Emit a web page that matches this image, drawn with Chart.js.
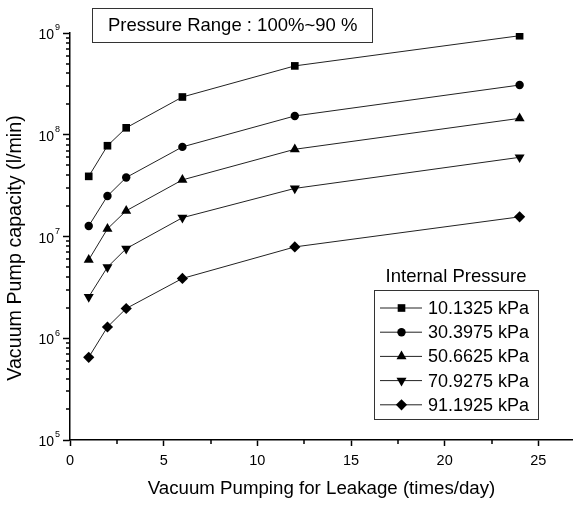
<!DOCTYPE html>
<html>
<head>
<meta charset="utf-8">
<title>Vacuum Pump capacity</title>
<script src="https://cdn.jsdelivr.net/npm/chart.js@4.4.1/dist/chart.umd.min.js"></script>
<style>
  html, body { margin: 0; padding: 0; background: #fff; }
  canvas { display: block; }
</style>
</head>
<body>
<canvas id="chartPump" width="573" height="507"></canvas>
<script>
// pumping frequency (times/day) and capacity (l/min) for each internal pressure
const timesPerDay = [1, 2, 3, 6, 12, 24];
const pressureLabels = ['10.1325 kPa', '30.3975 kPa', '50.6625 kPa', '70.9275 kPa', '91.1925 kPa'];
const cap10 = [3.9e7, 7.8e7, 1.17e8, 2.35e8, 4.75e8, 9.4e8];
const cap30 = [1.27e7, 2.5e7, 3.8e7, 7.6e7, 1.53e8, 3.08e8];
const cap50 = [5.9e6, 1.19e7, 1.79e7, 3.6e7, 7.2e7, 1.45e8];
const cap70 = [2.55e6, 5.0e6, 7.6e6, 1.53e7, 2.97e7, 6.0e7];
const cap91 = [6.5e5, 1.29e6, 1.96e6, 3.87e6, 7.9e6, 1.56e7];
const xTickValues = [0, 5, 10, 15, 20, 25];
const yTickValues = [1e5, 1e6, 1e7, 1e8, 1e9];

const series = [cap10, cap30, cap50, cap70, cap91];
const markers = [
  { pointStyle: 'rect', radius: 5.4, rotation: 0 },
  { pointStyle: 'circle', radius: 4.2, rotation: 0 },
  { pointStyle: 'triangle', radius: 5.8, rotation: 0 },
  { pointStyle: 'triangle', radius: 5.8, rotation: 180 },
  { pointStyle: 'rectRot', radius: 5.6, rotation: 0 }
];

const datasets = series.map((vals, i) => ({
  label: pressureLabels[i],
  data: timesPerDay.map((t, j) => ({ x: t, y: vals[j] })),
  showLine: true,
  borderColor: '#222',
  borderWidth: 1,
  backgroundColor: '#000',
  pointStyle: markers[i].pointStyle,
  pointRadius: markers[i].radius,
  pointRotation: markers[i].rotation,
  pointBorderWidth: 0,
  pointBackgroundColor: '#000'
}));

const FONT = '"Liberation Sans", Arial, sans-serif';

// extra drawing: minor ticks, 10^n labels, y title, legend and header box
const extras = {
  id: 'extras',
  afterDraw(chart) {
    const { ctx, chartArea, scales: { x, y } } = chart;
    ctx.save();
    ctx.strokeStyle = '#000';
    ctx.lineWidth = 1.5;

    // minor ticks
    ctx.beginPath();
    for (let e = 5; e < 9; e++) {
      for (let m = 2; m <= 9; m++) {
        const py = Math.round(y.getPixelForValue(m * Math.pow(10, e)));
        ctx.moveTo(chartArea.left - 4, py);
        ctx.lineTo(chartArea.left, py);
      }
    }
    for (let v = 2.5; v < x.max; v += 5) {
      const px = Math.round(x.getPixelForValue(v));
      ctx.moveTo(px, chartArea.bottom);
      ctx.lineTo(px, chartArea.bottom + 4);
    }
    ctx.stroke();

    // decade labels
    ctx.fillStyle = '#000';
    ctx.textBaseline = 'alphabetic';
    yTickValues.forEach(v => {
      const py = y.getPixelForValue(v);
      ctx.font = '14px ' + FONT;
      ctx.textAlign = 'right';
      ctx.fillText('10', 54, py + 6);
      ctx.font = '9px ' + FONT;
      ctx.textAlign = 'left';
      ctx.fillText(String(Math.round(Math.log10(v))), 55, py - 2.6);
    });

    // y axis title
    ctx.save();
    ctx.translate(15.6, 248);
    ctx.rotate(-Math.PI / 2);
    ctx.font = '19.7px ' + FONT;
    ctx.textAlign = 'center';
    ctx.textBaseline = 'middle';
    ctx.fillText('Vacuum Pump capacity (l/min)', 0, 0);
    ctx.restore();

    // header box
    ctx.strokeStyle = '#333';
    ctx.lineWidth = 1;
    ctx.strokeRect(92.5, 8.5, 280, 34);
    ctx.font = '18.5px ' + FONT;
    ctx.textAlign = 'left';
    ctx.fillText('Pressure Range : 100%~90 %', 108, 31);

    // legend
    ctx.font = '18.5px ' + FONT;
    ctx.textAlign = 'center';
    ctx.fillText('Internal Pressure', 456, 281.5);
    ctx.strokeRect(374.5, 290.5, 164, 129);
    ctx.font = '18px ' + FONT;
    ctx.textAlign = 'left';
    pressureLabels.forEach((lab, i) => {
      const base = 314 + i * 24.2;
      const cy = base - 6;
      ctx.strokeStyle = '#222';
      ctx.lineWidth = 1;
      ctx.beginPath();
      ctx.moveTo(380, cy);
      ctx.lineTo(422, cy);
      ctx.stroke();
      ctx.fillStyle = '#000';
      Chart.helpers.drawPoint(ctx, {
        pointStyle: markers[i].pointStyle,
        radius: markers[i].radius,
        rotation: markers[i].rotation,
        borderWidth: 0
      }, 401.5, cy);
      ctx.fillText(lab, 428, base);
    });
    ctx.restore();
  }
};

new Chart(document.getElementById('chartPump'), {
  type: 'scatter',
  data: { datasets },
  options: {
    responsive: false,
    animation: false,
    layout: { autoPadding: false, padding: { top: 33, right: 0, bottom: 0, left: 0 } },
    plugins: { legend: { display: false }, tooltip: { enabled: false } },
    scales: {
      x: {
        type: 'linear',
        min: 0,
        max: 26.85,
        afterBuildTicks: s => { s.ticks = xTickValues.map(v => ({ value: v })); },
        afterFit: s => { s.height = 67; },
        grid: { drawOnChartArea: false, tickLength: 6, tickColor: '#000', tickWidth: 1.5 },
        border: { color: '#000', width: 1.5 },
        ticks: { color: '#000', padding: 6, maxRotation: 0, font: { family: FONT, size: 14.5 } },
        title: {
          display: true,
          text: 'Vacuum Pumping for Leakage (times/day)',
          color: '#000',
          font: { family: FONT, size: 18.7 },
          padding: { top: 0, bottom: 6.8 }
        }
      },
      y: {
        type: 'logarithmic',
        min: 1e5,
        max: 1e9,
        afterBuildTicks: s => { s.ticks = yTickValues.map(v => ({ value: v })); },
        afterFit: s => { s.width = 70; },
        grid: { drawOnChartArea: false, tickLength: 7, tickColor: '#000', tickWidth: 1.5 },
        border: { color: '#000', width: 1.5 },
        ticks: { display: false }
      }
    }
  },
  plugins: [extras]
});
</script>
</body>
</html>
